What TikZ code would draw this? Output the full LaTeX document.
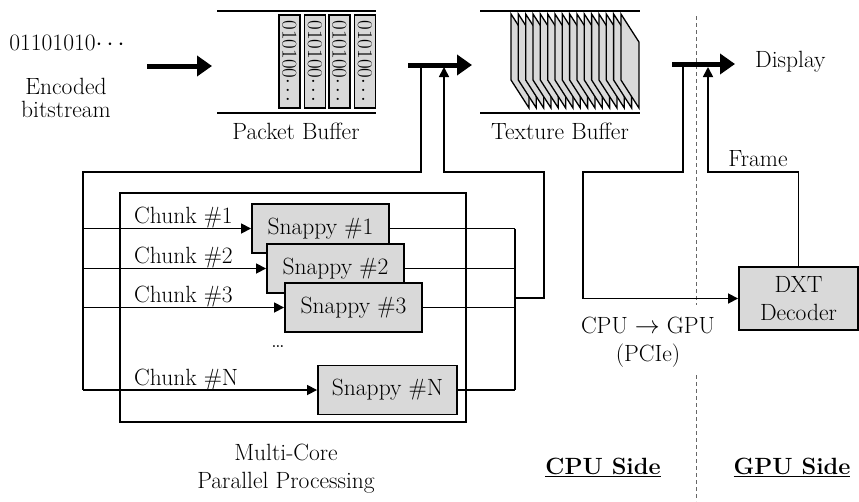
\documentclass[tikz,border=0pt]{standalone}
\usepackage{graphicx}
\usepackage{tikz}
\usetikzlibrary{positioning, arrows.meta}

\tikzset{
  lbl/.style={font=\fontsize{23.5}{28}\selectfont, inner sep=0pt, align=center},
  wire/.style={line width=1.7pt},
  flow/.style={wire, -{Triangle[length=10pt,width=10pt]}},
  fatarrow/.style={line width=5pt, -{Triangle[length=15pt,width=20pt]}},
  procbox/.style={draw, line width=1.9pt, fill=black!15, minimum width=137pt, minimum height=49pt, lbl},
  packet/.style={draw, line width=1.9pt, fill=black!15, minimum width=21pt, minimum height=93pt, inner sep=0pt},
  sidebar/.style={line width=0.8pt, black!60, dash pattern=on 4pt off 3pt},
}

\begin{document}
\begin{tikzpicture}[x=1pt, y=-1pt]
\useasboundingbox (0,0) rectangle (859,501);

% Input
\node[lbl] (bits) at (67,43) {01101010$\cdots$};
\node[lbl] (enc) at (66,98) {Encoded\\[-5pt]bitstream};
\coordinate (inA) at (147,66);
\coordinate (inB) at (212,66);
\draw[fatarrow] (inA) -- (inB);

% Packet Buffer
\coordinate (pb1) at (217,11); \coordinate (pb2) at (376,11);
\coordinate (pb3) at (217,113); \coordinate (pb4) at (376,113);
\draw[wire] (pb1) -- (pb2) (pb3) -- (pb4);
\foreach \i/\x in {1/289.5, 2/315, 3/339.5, 4/365}
  \node[packet] (pk\i) at (\x,61.5) {\rotatebox{-90}{\fontsize{21}{21}\selectfont 010100$\cdots$}};
\node[lbl] (pbuf) at (296,131) {Packet Buffer};

% Texture Buffer
\coordinate (tb1) at (480,11); \coordinate (tb2) at (640,11);
\coordinate (tb3) at (480,113); \coordinate (tb4) at (640,113);
\draw[wire] (tb1) -- (tb2) (tb3) -- (tb4);
\foreach \k in {0,...,15} {
  \pgfmathsetmacro\fx{511+7.33*\k}
  \draw[line width=1.3pt, fill=black!15] (\fx,14) -- ++(18,28) -- ++(0,66) -- ++(-18,-28) -- cycle;
}
\node[lbl] (tbuf) at (560,131) {Texture Buffer};

% Multi-Core block
\node[draw, line width=1.7pt, minimum width=346pt, minimum height=229pt] (mc) at (293,307.5) {};
\node[procbox] (s1) at (320.5,228.5) {Snappy \#1};
\node[procbox] (s2) at (335.5,268.5) {Snappy \#2};
\node[procbox] (s3) at (353.5,307.5) {Snappy \#3};
\node[procbox, minimum width=139pt] (sN) at (387.5,390) {Snappy \#N};
\node[lbl] (more) at (278,347) {\dots};

% Split into chunks
\coordinate (tapA) at (421,65);
\coordinate (busT) at (83,172);
\draw[wire] (tapA) |- (busT) -- (busT |- sN.west);
\foreach \s/\t in {s1/1, s2/2, s3/3, sN/N} {
  \draw[flow] (busT |- \s.west) -- (\s.west);
  \path (busT |- \s.west) ++(51,-5) node[lbl, anchor=base west] (c\t) {Chunk \#\t};
}

% Collect results
\coordinate (colX) at (515,298);
\foreach \s in {s1,s2,s3,sN}
  \draw[wire] (\s.east) -- (\s.east -| colX);
\draw[wire] (colX |- s1.east) -- (colX |- sN.east);
\coordinate (loopR) at (544,172);
\coordinate (tapB) at (444,67);
\draw[flow] (colX) -| (loopR) -| (tapB);
\coordinate (mA) at (408,65); \coordinate (mB) at (472,65);
\draw[fatarrow] (mA) -- (mB);

\node[lbl] (mcl) at (286,469) {Multi-Core\\Parallel Processing};

% CPU / GPU divider
\coordinate (dv1) at (696,16); \coordinate (dv2) at (696,305);
\coordinate (dv3) at (696,375); \coordinate (dv4) at (696,501);
\draw[sidebar] (dv1) -- (dv2) (dv3) -- (dv4);

% GPU side
\node[procbox, minimum width=119pt, minimum height=63pt] (dxt) at (798.5,298.5) {DXT\\Decoder};
\coordinate (tapC) at (683,64);
\coordinate (pcL) at (583,172);
\draw[flow] (tapC) |- (pcL) |- (dxt.west);
\coordinate (frT) at (708,172);
\coordinate (tapD) at (708,67);
\draw[flow] (dxt.north) |- (frT) -- (tapD);
\node[lbl, anchor=base] (frame) at (758,166) {Frame};
\coordinate (oA) at (672,64); \coordinate (oB) at (735,64);
\draw[fatarrow] (oA) -- (oB);
\node[lbl, anchor=west] (disp) at (755,62) {Display};

% Labels
\node[lbl] (pcie) at (648,342) {CPU $\rightarrow$ GPU\\(PCIe)};
\node[lbl] (cpu) at (603,467) {\textbf{\underline{CPU Side}}};
\node[lbl] (gpu) at (792,467) {\textbf{\underline{GPU Side}}};

\end{tikzpicture}
\end{document}
